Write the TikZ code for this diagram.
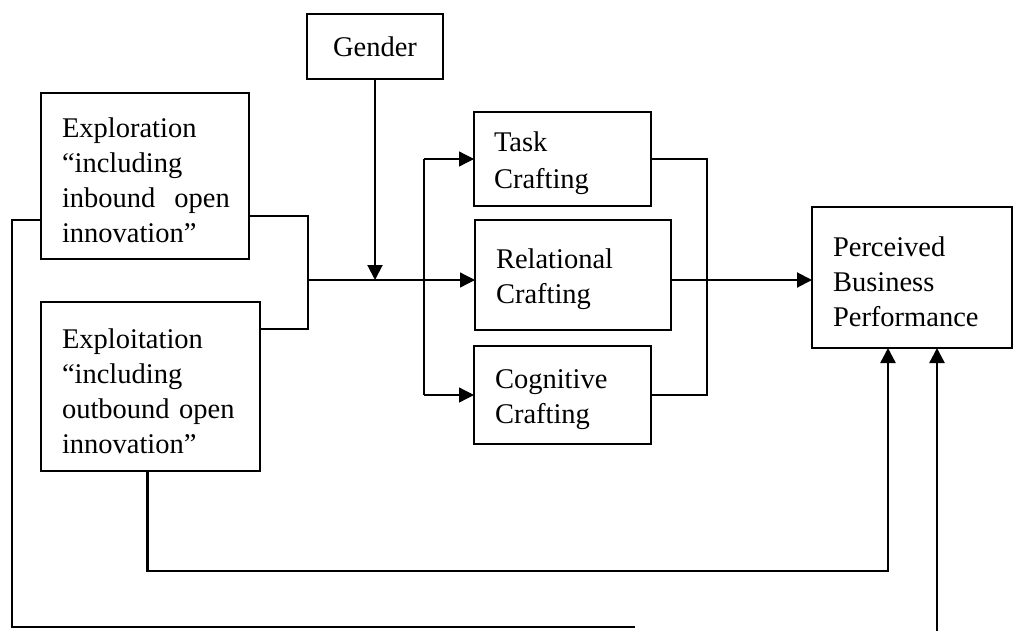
\documentclass[tikz,border=0pt]{standalone}
\usepackage{fontspec}
\setmainfont{Liberation Serif}
\usetikzlibrary{arrows.meta,calc}
\newcommand{\toppad}{\rule{0pt}{29pt}}
\tikzset{
  box/.style={draw, line width=1.8pt, anchor=north west, outer sep=0pt, align=left,
    font=\fontsize{28.5}{35}\selectfont, inner xsep=21pt, inner ysep=0pt},
  thin/.style={line width=1.3pt},
  arr/.style={line width=1.3pt, -{Triangle[length=15pt,width=15pt]}},
  arrb/.style={line width=2pt, -{Triangle[length=15pt,width=15pt]}},
  arrbb/.style={line width=2.4pt, -{Triangle[length=15pt,width=15pt]}},
}
\begin{document}
\begin{tikzpicture}[x=1pt,y=-1pt]
\useasboundingbox (0,0) rectangle (1013,630);
% boxes
\node[box, align=center, inner xsep=0pt, minimum width=136pt, minimum height=65pt] (gender) at (307,14) {Gender};
\node[box, text width=166pt, minimum width=208pt, minimum height=166pt] (explor) at (41,93)
  {\toppad\mbox{Exploration}\\ \mbox{“including}\\ \mbox{inbound\ \ open}\\ \mbox{innovation”}};
\node[box, text width=177pt, minimum width=219pt, minimum height=169pt] (exploit) at (41,302)
  {\toppad\mbox{Exploitation}\\ \mbox{“including}\\ \mbox{outbound open}\\ \mbox{innovation”}};
\node[box, inner xsep=20pt, text width=137pt, minimum width=177pt, minimum height=94pt] (task) at (474,112)
  {\toppad Task\\[2pt] Crafting};
\node[box, text width=154pt, minimum width=196pt, minimum height=110pt] (rel) at (475,220)
  {\toppad Relational\\ Crafting};
\node[box, text width=135pt, minimum width=177pt, minimum height=98pt] (cog) at (474,346)
  {\toppad Cognitive\\ Crafting};
\node[box, text width=158pt, minimum width=200pt, minimum height=141pt] (perf) at (812,207)
  {\toppad Perceived\\ Business\\ \mbox{Performance}};
% junction points
\coordinate (jL) at (308,280);
\coordinate (jM) at (424,280);
\coordinate (jR) at (707,280);
\coordinate (yB) at (500,571);
\coordinate (lc) at (12,627);
\coordinate (lEnd) at (635,627);
\coordinate (rb) at (937,632);
% exploration / exploitation join
\draw[thin] ([yshift=43]explor.south east) -- (jL |- 0,216) -- (jL |- 0,329) -- ([yshift=-27]exploit.north east);
\draw[arr] (jL) -- (rel.west |- jL);
% gender moderation
\draw[arrb] (gender.south) -- (gender.south |- jL);
% split to task and cognitive
\draw[thin] (jM |- task.west) -- (jM |- cog.west);
\draw[arr] (jM |- task.west) -- (task.west);
\draw[arr] (jM |- cog.west) -- (cog.west);
% crafting to performance
\draw[thin] (task.east) -- (jR |- task.east) -- (jR |- cog.east) -- (cog.east);
\draw[thin] (rel.east |- jR) -- (jR);
\draw[arrb] (jR) -- (perf.west |- jR);
% exploitation to performance
\draw[arrbb] ([xshift=-3]exploit.south) |- (yB) -| ([xshift=-24]perf.south);
% exploration outer loop
\draw[thin] ([yshift=-44]explor.west) -| (lc) -- (lEnd);
\draw[arrbb] (rb) -- ([xshift=25]perf.south);
\end{tikzpicture}
\end{document}
